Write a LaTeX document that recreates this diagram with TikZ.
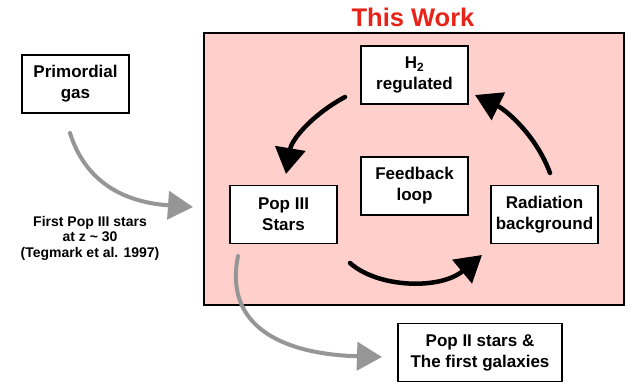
\documentclass[tikz,border=0pt]{standalone}
\usepackage{fontspec}
\setmainfont{Liberation Sans}
\usetikzlibrary{arrows.meta}
\definecolor{pinkbg}{RGB}{255,208,203}
\definecolor{titlered}{RGB}{232,36,24}
\definecolor{arrgray}{RGB}{150,150,150}
\tikzset{
  boxnode/.style={draw=black, line width=1.6pt, fill=white, minimum width=107pt, minimum height=58pt,
    align=center, inner sep=2pt, font=\fontsize{17}{21}\selectfont\bfseries},
  blackarrow/.style={draw=black, line width=4.5pt, line cap=round, -{Triangle[length=26pt,width=30pt]}},
  grayarrow/.style={draw=arrgray, line width=4pt, line cap=round, -{Triangle[length=25pt,width=28pt]}},
}
\begin{document}
\begin{tikzpicture}[x=1pt,y=-1pt]
\useasboundingbox (0,0) rectangle (633,385);
\fill[white] (0,0) rectangle (633,385);
\node[draw=black, line width=2pt, fill=pinkbg, minimum width=420pt, minimum height=272pt, inner sep=0pt] (frame) at (414,169) {};
\node[text=titlered, font=\fontsize{25.5}{28}\selectfont\bfseries] (title) at (413,17) {This Work};
\node[boxnode] (prim) at (75.5,84) {Primordial\\gas};
\node[boxnode] (h2) at (414.5,75) {H\textsubscript{2}\\regulated};
\node[boxnode] (feed) at (414.5,186) {Feedback\\loop};
\node[boxnode] (pop3) at (283.5,214.5) {Pop III\\Stars};
\node[boxnode] (rad) at (544.5,214.5) {Radiation\\background};
\node[boxnode, minimum width=164pt] (pop2) at (480,352.5) {Pop II stars \&\\The first galaxies};
\node[align=center, font=\fontsize{14}{15.5}\selectfont\bfseries] (note) at (90,238) {First Pop III stars\\at z \textasciitilde{} 30\\(Tegmark et al. 1997)};
% endpoints
\coordinate (g1s) at (70,133);
\coordinate (g1e) at (193,207);
\coordinate (g2s) at (238,256);
\coordinate (g2e) at (382,357);
\coordinate (b1s) at (345,97);
\coordinate (b1e) at (286,174);
\coordinate (b2s) at (350,263);
\coordinate (b2e) at (482,255);
\coordinate (b3s) at (550,173);
\coordinate (b3e) at (475,95);
\draw[grayarrow] (g1s) .. controls (88,190) and (135,203) .. (g1e);
\draw[grayarrow] (g2s) .. controls (224,325) and (280,354) .. (g2e);
\draw[blackarrow] (b1s) .. controls (315,113) and (292,138) .. (b1e);
\draw[blackarrow] (b2s) .. controls (378,288) and (440,290) .. (b2e);
\draw[blackarrow] (b3s) .. controls (536,135) and (506,110) .. (b3e);
\end{tikzpicture}
\end{document}
